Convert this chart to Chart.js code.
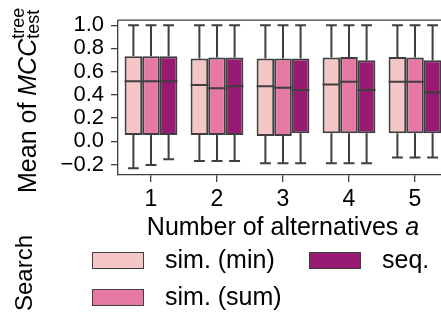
<!DOCTYPE html>
<html>
<head>
<meta charset="utf-8">
<script src="https://cdn.jsdelivr.net/npm/chart.js@4.4.1/dist/chart.umd.min.js"></script>
<style>
  html, body { margin: 0; padding: 0; background: #fff; overflow: hidden; }
  #wrap { width: 441px; height: 320px; overflow: hidden; }
</style>
</head>
<body>
<div id="wrap"><canvas id="chart" width="461" height="320"></canvas></div>
<script>
const categories = ["1", "2", "3", "4", "5"];
const seriesNames = ["sim. (min)", "sim. (sum)", "seq."];
const seriesColors = ["#f4c7c6", "#e579a3", "#981a72"];
const yTicks = [-0.2, 0.0, 0.2, 0.4, 0.6, 0.8, 1.0];

// box stats: whisker low, q1, median, q3, whisker high
const simMinLow = [-0.232, -0.169, -0.189, -0.189, -0.14];
const simMinQ1 = [0.054, 0.054, 0.046, 0.069, 0.069];
const simMinMed = [0.518, 0.484, 0.475, 0.490, 0.512];
const simMinQ3 = [0.733, 0.714, 0.714, 0.722, 0.727];
const simMinHigh = [1.0, 1.0, 1.0, 1.0, 1.0];

const simSumLow = [-0.204, -0.169, -0.189, -0.189, -0.14];
const simSumQ1 = [0.054, 0.054, 0.046, 0.069, 0.069];
const simSumMed = [0.518, 0.456, 0.461, 0.512, 0.512];
const simSumQ3 = [0.733, 0.722, 0.714, 0.727, 0.722];
const simSumHigh = [1.0, 1.0, 1.0, 1.0, 1.0];

const seqLow = [-0.155, -0.169, -0.189, -0.189, -0.14];
const seqQ1 = [0.054, 0.054, 0.069, 0.069, 0.069];
const seqMed = [0.518, 0.475, 0.441, 0.441, 0.42];
const seqQ3 = [0.733, 0.722, 0.714, 0.699, 0.699];
const seqHigh = [1.0, 1.0, 1.0, 1.0, 1.0];

const FONT = "'Liberation Sans', Arial, sans-serif";
const EDGE = "#3f3f3f";

const stats = [
    { low: simMinLow, q1: simMinQ1, med: simMinMed, q3: simMinQ3, high: simMinHigh },
    { low: simSumLow, q1: simSumQ1, med: simSumMed, q3: simSumQ3, high: simSumHigh },
    { low: seqLow, q1: seqQ1, med: seqMed, q3: seqQ3, high: seqHigh },
];

const datasets = seriesNames.map((name, i) => ({
    label: name,
    data: stats[i].q1.map((q, j) => [q, stats[i].q3[j]]),
    backgroundColor: seriesColors[i],
    borderColor: EDGE,
    borderWidth: 2,
    borderSkipped: false,
    stats: stats[i],
}));

// medians, whiskers and caps on top of the floating bars
const boxPlugin = {
    id: "boxWhiskers",
    afterDatasetsDraw(chart) {
        const ctx = chart.ctx;
        const y = chart.scales.y;
        ctx.save();
        ctx.strokeStyle = EDGE;
        ctx.lineWidth = 2;
        chart.data.datasets.forEach((ds, i) => {
            const meta = chart.getDatasetMeta(i);
            meta.data.forEach((bar, j) => {
                const s = ds.stats;
                const half = bar.width / 2;
                const cap = bar.width * 0.31;
                const yLow = y.getPixelForValue(s.low[j]);
                const yQ1 = y.getPixelForValue(s.q1[j]);
                const yMed = y.getPixelForValue(s.med[j]);
                const yQ3 = y.getPixelForValue(s.q3[j]);
                const yHigh = y.getPixelForValue(s.high[j]);
                ctx.beginPath();
                ctx.moveTo(bar.x - half, yMed);
                ctx.lineTo(bar.x + half, yMed);
                ctx.moveTo(bar.x, yQ3);
                ctx.lineTo(bar.x, yHigh);
                ctx.moveTo(bar.x, yQ1);
                ctx.lineTo(bar.x, yLow);
                ctx.moveTo(bar.x - cap, yHigh);
                ctx.lineTo(bar.x + cap, yHigh);
                ctx.moveTo(bar.x - cap, yLow);
                ctx.lineTo(bar.x + cap, yLow);
                ctx.stroke();
            });
        });
        ctx.restore();
    },
};

function drawPieces(ctx, pieces, startX, baseY) {
    let x = startX;
    for (const p of pieces) {
        ctx.font = p.font;
        ctx.fillText(p.text, x, baseY + (p.dy || 0));
        if (!p.stack) x += ctx.measureText(p.text).width;
    }
}

// frame top, axis titles and the legend
const decorPlugin = {
    id: "decor",
    afterDraw(chart) {
        const ctx = chart.ctx;
        const area = chart.chartArea;
        ctx.save();
        ctx.strokeStyle = EDGE;
        ctx.lineWidth = 1.3;
        ctx.beginPath();
        ctx.moveTo(area.left, area.top);
        ctx.lineTo(area.right, area.top);
        ctx.stroke();

        ctx.fillStyle = "#000";
        ctx.textBaseline = "alphabetic";
        ctx.textAlign = "left";

        // x title
        ctx.font = "25px " + FONT;
        const xPart = "Number of alternatives ";
        const w1 = ctx.measureText(xPart).width;
        ctx.font = "italic 25px " + FONT;
        const w2 = ctx.measureText("a").width;
        const xStart = (area.left + area.right) / 2 - (w1 + w2) / 2;
        drawPieces(ctx, [
            { text: xPart, font: "25px " + FONT },
            { text: "a", font: "italic 25px " + FONT },
        ], xStart, 235);

        // y title
        ctx.save();
        ctx.translate(36, 193);
        ctx.rotate(-Math.PI / 2);
        drawPieces(ctx, [
            { text: "Mean of ", font: "25px " + FONT },
            { text: "MCC", font: "italic 25px " + FONT },
            { text: "tree", font: "18px " + FONT, dy: -12, stack: true },
            { text: "test", font: "18px " + FONT, dy: 3 },
        ], 0, 0);
        ctx.restore();

        // legend title
        ctx.save();
        ctx.font = "24px " + FONT;
        ctx.translate(32, 273);
        ctx.rotate(-Math.PI / 2);
        ctx.textAlign = "center";
        ctx.fillText("Search", 0, 0);
        ctx.restore();

        // legend entries, column-major
        const cols = [92, 309];
        const rows = [252, 289];
        ctx.font = "25px " + FONT;
        ctx.textBaseline = "middle";
        seriesNames.forEach((name, i) => {
            const cx = cols[Math.floor(i / 2)];
            const ry = rows[i % 2];
            ctx.fillStyle = seriesColors[i];
            ctx.fillRect(cx, ry, 52, 17);
            ctx.strokeStyle = EDGE;
            ctx.lineWidth = 1;
            ctx.strokeRect(cx + 0.5, ry + 0.5, 51, 16);
            ctx.fillStyle = "#000";
            ctx.fillText(name, cx + 73, ry + 9);
        });
        ctx.restore();
    },
};

const chart = new Chart(document.getElementById("chart"), {
    type: "bar",
    data: { labels: categories, datasets: datasets },
    options: {
        responsive: false,
        animation: false,
        devicePixelRatio: 1,
        layout: { padding: { top: 20, right: 13, left: 0, bottom: 0 } },
        datasets: { bar: { categoryPercentage: 0.8, barPercentage: 1.0 } },
        plugins: { legend: { display: false }, tooltip: { enabled: false } },
        scales: {
            x: {
                type: "category",
                offset: true,
                grid: { offset: false, drawOnChartArea: false, tickLength: 7, color: EDGE, lineWidth: 1.3 },
                border: { display: true, color: EDGE, width: 1.3 },
                ticks: { color: "#000", font: { family: FONT, size: 23 }, padding: 4, maxRotation: 0 },
                afterFit(scale) { scale.height = 145; },
            },
            y: {
                min: -0.29,
                max: 1.043,
                afterBuildTicks(scale) { scale.ticks = yTicks.map((v) => ({ value: v })); },
                grid: { drawOnChartArea: false, tickLength: 7, color: EDGE, lineWidth: 1.3 },
                border: { display: true, color: EDGE, width: 1.3 },
                ticks: {
                    color: "#000",
                    font: { family: FONT, size: 22 },
                    padding: 7,
                    autoSkip: false,
                    callback: (v) => Number(v).toFixed(1).replace("-", "\u2212"),
                },
                afterFit(scale) { scale.width = 118; },
            },
        },
    },
    plugins: [boxPlugin, decorPlugin],
});
</script>
</body>
</html>
